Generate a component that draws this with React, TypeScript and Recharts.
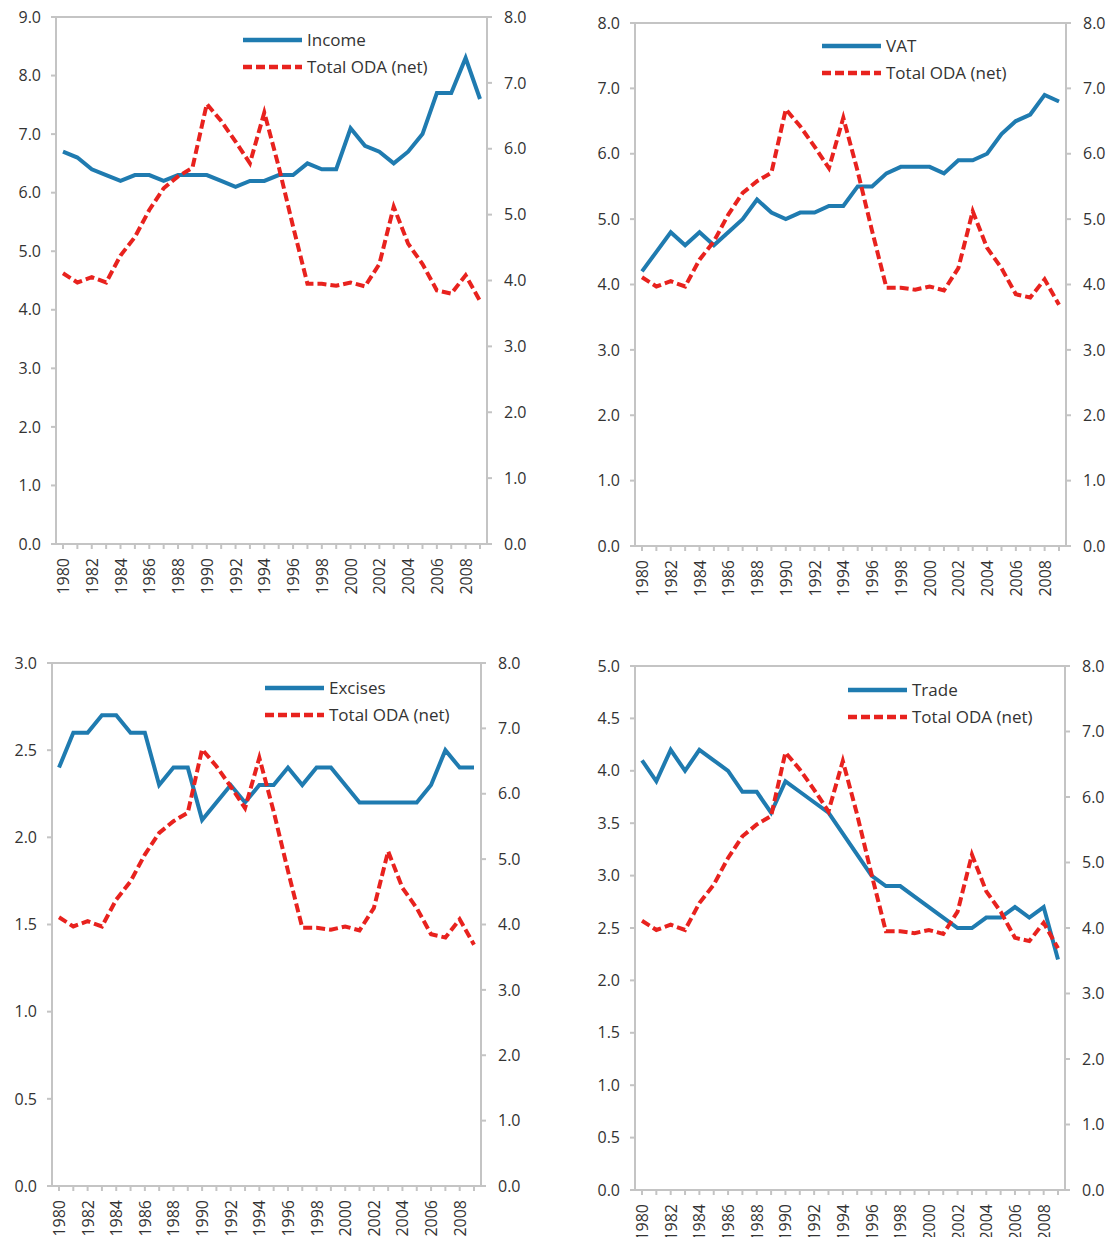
import React from "react";
import {
  LineChart,
  Line,
  XAxis,
  YAxis,
  Legend,
  ReferenceLine,
} from "recharts";

const YEARS = [
  "1980", "1981", "1982", "1983", "1984", "1985", "1986", "1987", "1988", "1989",
  "1990", "1991", "1992", "1993", "1994", "1995", "1996", "1997", "1998", "1999",
  "2000", "2001", "2002", "2003", "2004", "2005", "2006", "2007", "2008", "2009",
];

// Total ODA (net), right axis in every panel
const ODA = [
  4.11, 3.97, 4.05, 3.97, 4.38, 4.66, 5.07, 5.4, 5.58, 5.71,
  6.68, 6.42, 6.11, 5.78, 6.55, 5.73, 4.82, 3.95, 3.95, 3.92,
  3.97, 3.91, 4.25, 5.12, 4.56, 4.25, 3.85, 3.8, 4.08, 3.69,
];

const INCOME = [
  6.7, 6.6, 6.4, 6.3, 6.2, 6.3, 6.3, 6.2, 6.3, 6.3,
  6.3, 6.2, 6.1, 6.2, 6.2, 6.3, 6.3, 6.5, 6.4, 6.4,
  7.1, 6.8, 6.7, 6.5, 6.7, 7.0, 7.7, 7.7, 8.3, 7.6,
];

const VAT = [
  4.2, 4.5, 4.8, 4.6, 4.8, 4.6, 4.8, 5.0, 5.3, 5.1,
  5.0, 5.1, 5.1, 5.2, 5.2, 5.5, 5.5, 5.7, 5.8, 5.8,
  5.8, 5.7, 5.9, 5.9, 6.0, 6.3, 6.5, 6.6, 6.9, 6.8,
];

const EXCISES = [
  2.4, 2.6, 2.6, 2.7, 2.7, 2.6, 2.6, 2.3, 2.4, 2.4,
  2.1, 2.2, 2.3, 2.2, 2.3, 2.3, 2.4, 2.3, 2.4, 2.4,
  2.3, 2.2, 2.2, 2.2, 2.2, 2.2, 2.3, 2.5, 2.4, 2.4,
];

const TRADE = [
  4.1, 3.9, 4.2, 4.0, 4.2, 4.1, 4.0, 3.8, 3.8, 3.6,
  3.9, 3.8, 3.7, 3.6, 3.4, 3.2, 3.0, 2.9, 2.9, 2.8,
  2.7, 2.6, 2.5, 2.5, 2.6, 2.6, 2.7, 2.6, 2.7, 2.2,
];

const RIGHT_TICKS = [0, 1, 2, 3, 4, 5, 6, 7, 8];
const INCOME_TICKS = [0, 1, 2, 3, 4, 5, 6, 7, 8, 9];
const VAT_TICKS = [0, 1, 2, 3, 4, 5, 6, 7, 8];
const EXCISES_TICKS = [0, 0.5, 1, 1.5, 2, 2.5, 3];
const TRADE_TICKS = [0, 0.5, 1, 1.5, 2, 2.5, 3, 3.5, 4, 4.5, 5];

const BLUE = "#1f7bb0";
const RED = "#e8221e";
const AXIS = "#c4c4c4";
const TEXT = "#333333";
const FONT = "'Open Sans', 'Noto Sans', sans-serif";

const fmt = (v: number) => v.toFixed(1);

function YearTick(props: any) {
  const { x, y, payload } = props;
  const label = String(payload.value);
  if (Number(label) % 2 !== 0) return null;
  return (
    <text
      x={x}
      y={y + 3}
      transform={`rotate(-90, ${x}, ${y + 3})`}
      textAnchor="end"
      dominantBaseline="central"
      fontSize={16}
      fontFamily={FONT}
      fill={TEXT}
    >
      {label}
    </text>
  );
}

interface PanelProps {
  name: string;
  values: number[];
  leftTicks: number[];
  plot: { x0: number; x1: number; y0: number; y1: number };
  legend: { x: number; y: number };
}

function Panel({ name, values, leftTicks, plot, legend }: PanelProps) {
  const rows = YEARS.map((year, i) => ({ year, tax: values[i], oda: ODA[i] }));
  const left = plot.x0 - 60;
  const top = plot.y0 - 20;
  const width = plot.x1 - plot.x0 + 120;
  const height = plot.y1 - plot.y0 + 80;
  const leftMax = leftTicks[leftTicks.length - 1];

  const renderLegend = () => (
    <div style={{ fontFamily: FONT, fontSize: 17, color: TEXT, lineHeight: "27px" }}>
      {[
        { label: name, color: BLUE, dash: undefined, w: 4.5 },
        { label: "Total ODA (net)", color: RED, dash: "9 4", w: 4.5 },
      ].map((e) => (
        <div key={e.label} style={{ display: "flex", alignItems: "center", height: 27 }}>
          <svg width={59} height={8} style={{ marginRight: 5 }}>
            <line x1={0} y1={4} x2={59} y2={4} stroke={e.color} strokeWidth={e.w} strokeDasharray={e.dash} />
          </svg>
          <span style={{ whiteSpace: "nowrap" }}>{e.label}</span>
        </div>
      ))}
    </div>
  );

  return (
    <div style={{ position: "absolute", left, top }}>
      <LineChart
        width={width}
        height={height}
        data={rows}
        margin={{ top: 20, right: 0, bottom: 0, left: 0 }}
      >
        <XAxis
          dataKey="year"
          height={60}
          interval={0}
          padding={{ left: 7, right: 7 }}
          tick={<YearTick />}
          tickSize={5}
          tickMargin={6}
          stroke={AXIS}
          strokeWidth={2}
        />
        <YAxis
          yAxisId="left"
          width={60}
          domain={[0, leftMax]}
          ticks={leftTicks}
          interval={0}
          tickFormatter={fmt}
          tickSize={5}
          tickMargin={10}
          stroke={AXIS}
          strokeWidth={2}
          tick={{ fontSize: 16, fill: TEXT, fontFamily: FONT }}
        />
        <YAxis
          yAxisId="right"
          orientation="right"
          width={60}
          domain={[0, 8]}
          ticks={RIGHT_TICKS}
          interval={0}
          tickFormatter={fmt}
          tickSize={5}
          tickMargin={12}
          stroke={AXIS}
          strokeWidth={2}
          tick={{ fontSize: 16, fill: TEXT, fontFamily: FONT }}
        />
        <ReferenceLine yAxisId="left" y={leftMax} stroke={AXIS} strokeWidth={2} />
        <Line
          yAxisId="left"
          dataKey="tax"
          name={name}
          stroke={BLUE}
          strokeWidth={4}
          dot={false}
          activeDot={false}
          isAnimationActive={false}
        />
        <Line
          yAxisId="right"
          dataKey="oda"
          name="Total ODA (net)"
          stroke={RED}
          strokeWidth={4}
          strokeDasharray="9 4"
          dot={false}
          activeDot={false}
          isAnimationActive={false}
        />
        <Legend
          layout="vertical"
          align="center"
          verticalAlign="middle"
          content={renderLegend}
          wrapperStyle={{ left: legend.x - left, top: legend.y - top, width: "auto", height: "auto" }}
        />
      </LineChart>
    </div>
  );
}

export default function App() {
  return (
    <div
      style={{
        position: "absolute",
        left: 0,
        top: 0,
        width: 1109,
        height: 1237,
        overflow: "hidden",
        background: "#ffffff",
      }}
    >
      <Panel
        name="Income"
        values={INCOME}
        leftTicks={INCOME_TICKS}
        plot={{ x0: 56, x1: 487, y0: 17, y1: 544 }}
        legend={{ x: 243, y: 26 }}
      />
      <Panel
        name="VAT"
        values={VAT}
        leftTicks={VAT_TICKS}
        plot={{ x0: 635, x1: 1066, y0: 23, y1: 546 }}
        legend={{ x: 822, y: 32 }}
      />
      <Panel
        name="Excises"
        values={EXCISES}
        leftTicks={EXCISES_TICKS}
        plot={{ x0: 52, x1: 481, y0: 663, y1: 1186 }}
        legend={{ x: 265, y: 674 }}
      />
      <Panel
        name="Trade"
        values={TRADE}
        leftTicks={TRADE_TICKS}
        plot={{ x0: 635, x1: 1065, y0: 666, y1: 1190 }}
        legend={{ x: 848, y: 676 }}
      />
    </div>
  );
}
